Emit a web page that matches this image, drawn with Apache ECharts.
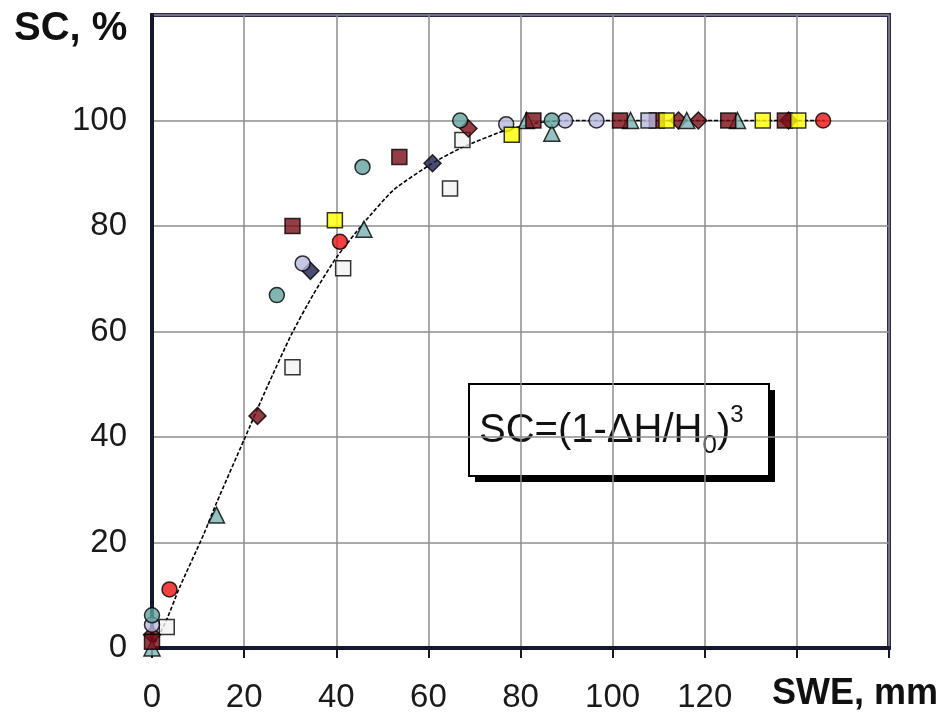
<!DOCTYPE html>
<html>
<head>
<meta charset="utf-8">
<script src="https://cdn.jsdelivr.net/npm/echarts@6/dist/echarts.min.js"></script>
<style>
  html, body { margin: 0; padding: 0; background: #ffffff; }
  #chart { width: 949px; height: 718px; }
</style>
</head>
<body>
<div id="chart"></div>
<script>
// Snow cover (SC, %) against snow water equivalent (SWE, mm)
const xTicks = [0, 20, 40, 60, 80, 100, 120];
const yTicks = [0, 20, 40, 60, 80, 100];

// observed points, one array per marker style: [SWE, SC]
const tealCircles = [[0, 6.2], [27.1, 66.9], [45.7, 91.2], [66.9, 100], [86.8, 100]];
const lavenderCircles = [[0, 4.4], [32.7, 72.9], [76.9, 99.3], [89.7, 100], [96.5, 100]];
const redCircles = [[3.8, 11.1], [40.8, 77.0], [145.7, 100]];
const darkRedSquares = [[0, 1.2], [30.5, 80.0], [53.7, 93.1], [82.8, 100], [101.6, 100], [109.6, 100], [125.1, 100], [137.4, 100]];
const yellowSquares = [[39.7, 81.1], [78.1, 97.3], [111.7, 100], [132.6, 100], [140.3, 100]];
const whiteSquares = [[3.2, 4.0], [30.5, 53.2], [41.5, 72.0], [64.7, 87.1], [67.4, 96.3]];
const lavenderSquares = [[107.8, 100]];
const navyDiamonds = [[34.4, 71.5], [60.9, 91.9]];
const darkRedDiamonds = [[0, 2.5], [22.9, 44.0], [68.7, 98.5], [114.3, 100], [118.6, 100], [138.2, 100]];
const tealTriangles = [[0, 0], [14.0, 25.2], [46.0, 79.4], [81.3, 100], [86.8, 97.6], [103.9, 100], [116.1, 100], [127.1, 100]];

// fitted curve SC=(1-ΔH/H0)^3
const curveX = [0, 3, 6, 11.2, 14, 20, 25, 30.3, 35, 40, 45.9, 52.4, 60.9, 67.6, 76.3, 84, 90, 146];
const curveY = [0, 5.0, 11.5, 21.5, 27.5, 39.5, 49.5, 59.5, 67.0, 74.0, 80.5, 86.8, 91.9, 95.0, 98.0, 99.6, 100, 100];

const FRAME = '#2a2950';
const AXIS = '#16162c';
const GRID = '#8c8c8c';
const LABEL_FONT = 'Liberation Sans, Arial, sans-serif';

function scatter(name, data, symbol, color, size) {
  return {
    name: name,
    type: 'scatter',
    data: data,
    symbol: symbol,
    symbolSize: size,
    itemStyle: { color: color, borderColor: '#000000', borderWidth: 1.5 },
    z: 3
  };
}

const chart = echarts.init(document.getElementById('chart'), null, { renderer: 'canvas' });

chart.setOption({
  animation: false,
  backgroundColor: '#ffffff',
  grid: {
    left: 152, right: 60, top: 15, bottom: 70,
    show: true, borderColor: FRAME, borderWidth: 4, backgroundColor: '#ffffff'
  },
  xAxis: {
    type: 'value', min: 0, max: 160, interval: 20,
    axisLine: { show: true, onZero: false, lineStyle: { color: AXIS, width: 4 } },
    axisTick: { show: true, inside: false, length: 10, lineStyle: { color: AXIS, width: 2 } },
    splitLine: { show: true, lineStyle: { color: GRID, width: 1.5 } },
    axisLabel: {
      margin: 33, fontSize: 33, color: '#1a1a1a', fontFamily: LABEL_FONT,
      formatter: v => (xTicks.indexOf(v) >= 0 ? String(v) : '')
    }
  },
  yAxis: {
    type: 'value', min: 0, max: 120, interval: 20,
    axisLine: { show: true, onZero: false, lineStyle: { color: AXIS, width: 4 } },
    axisTick: { show: false },
    splitLine: { show: true, lineStyle: { color: GRID, width: 1.5 } },
    axisLabel: {
      margin: 25, fontSize: 33, color: '#1a1a1a', fontFamily: LABEL_FONT,
      formatter: v => (yTicks.indexOf(v) >= 0 ? String(v) : '')
    }
  },
  series: [
    {
      name: 'fit',
      type: 'line',
      data: curveX.map((x, i) => [x, curveY[i]]),
      smooth: 0.2,
      showSymbol: false,
      lineStyle: { color: '#000000', width: 1.6, type: [4, 2] },
      z: 2
    },
    scatter('white squares', whiteSquares, 'rect', '#f2f2f2', 15),
    scatter('navy diamonds', navyDiamonds, 'diamond', '#1e1f4d', 17),
    scatter('dark red diamonds', darkRedDiamonds, 'diamond', '#7b0c17', 17),
    scatter('teal triangles', tealTriangles, 'triangle', '#7bb3b0', 16),
    scatter('dark red squares', darkRedSquares, 'rect', '#7b0c17', 15),
    scatter('lavender squares', lavenderSquares, 'rect', '#b8b8de', 15),
    scatter('lavender circles', lavenderCircles, 'circle', '#b8b8de', 15),
    scatter('teal circles', tealCircles, 'circle', '#63a39e', 15),
    scatter('yellow squares', yellowSquares, 'rect', '#ffff00', 15),
    scatter('red circles', redCircles, 'circle', '#ee1111', 15)
  ],
  graphic: [
    {
      type: 'text', left: 14, top: 9,
      style: { text: 'SC, %', fontSize: 40, fontWeight: 'bold', fill: '#111111', fontFamily: LABEL_FONT }
    },
    {
      type: 'text', left: 772, top: 676,
      style: { text: 'SWE, mm', fontSize: 36, fontWeight: 'bold', fill: '#111111', fontFamily: LABEL_FONT }
    },
    {
      type: 'group', left: 468, top: 383,
      children: [
        { type: 'rect', shape: { x: 6, y: 6, width: 300, height: 92 }, style: { fill: '#000000' } },
        { type: 'rect', shape: { x: 0, y: 0, width: 300, height: 92 }, style: { fill: '#ffffff', stroke: '#000000', lineWidth: 2 } },
        {
          type: 'text', x: 10, y: 47,
          style: {
            text: '{m|SC=(1-ΔH/H}{sub|0}{m|)}{sup|3}',
            verticalAlign: 'middle',
            rich: {
              m: { fontSize: 40, fontFamily: LABEL_FONT, fill: '#111111', lineHeight: 56, verticalAlign: 'middle' },
              sub: { fontSize: 26, fontFamily: LABEL_FONT, fill: '#111111', lineHeight: 56, verticalAlign: 'bottom' },
              sup: { fontSize: 24, fontFamily: LABEL_FONT, fill: '#111111', lineHeight: 50, verticalAlign: 'top' }
            }
          }
        }
      ]
    }
  ]
});
</script>
</body>
</html>
